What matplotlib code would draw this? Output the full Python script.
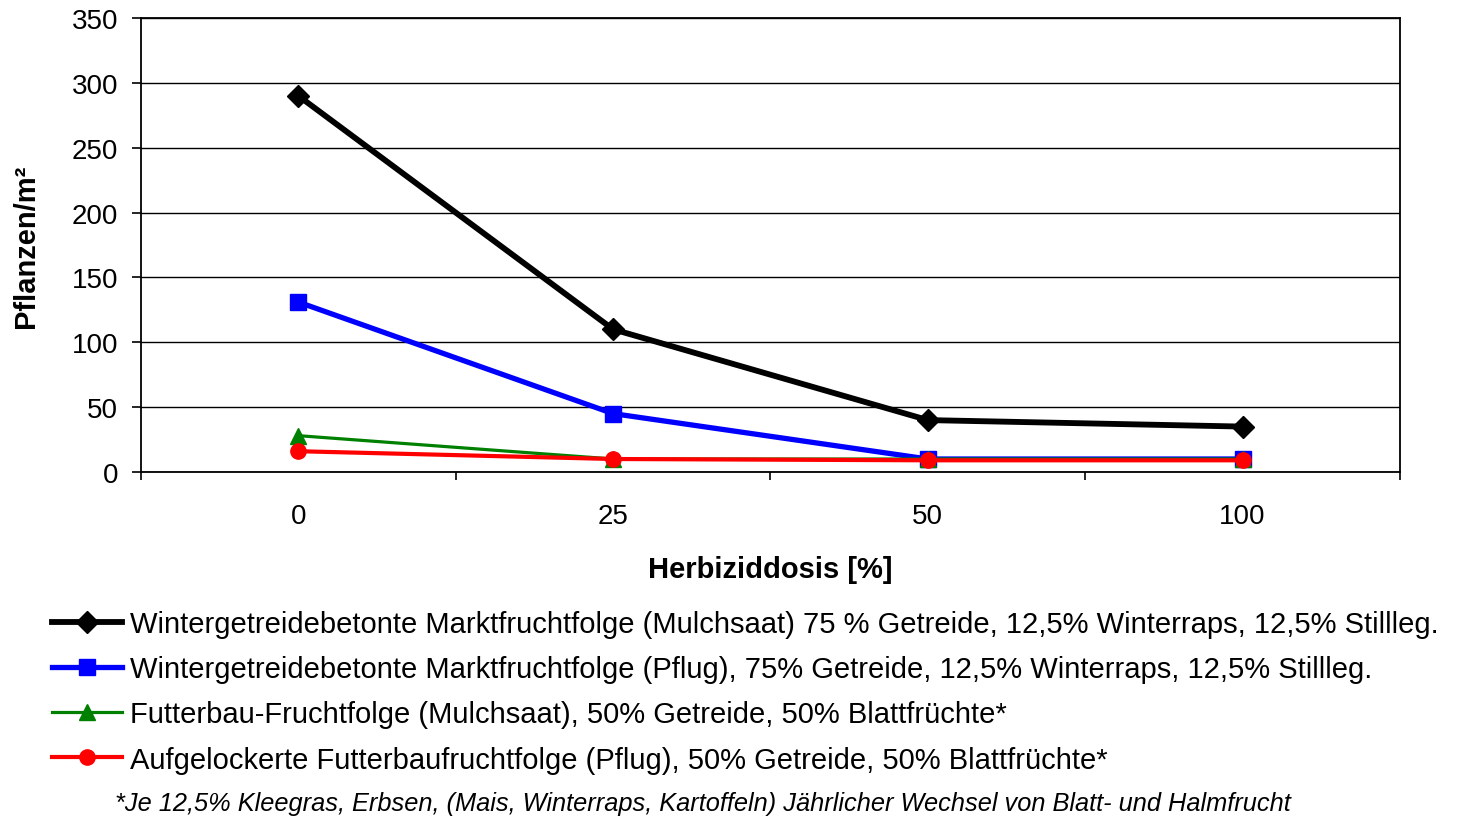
import numpy as np
import matplotlib.pyplot as plt

plt.rcParams['font.family'] = ['Liberation Sans', 'DejaVu Sans']

dosis = ["0", "25", "50", "100"]
x_label = "Herbiziddosis [%]"
y_label = "Pflanzen/m²"

markt_mulch = [290, 110, 40, 35]
markt_pflug = [131, 45, 10, 10]
futter_mulch = [28, 10, 10, 10]
futter_pflug = [16, 10, 9, 9]

labels = [
    "Wintergetreidebetonte Marktfruchtfolge (Mulchsaat) 75 % Getreide, 12,5% Winterraps, 12,5% Stillleg.",
    "Wintergetreidebetonte Marktfruchtfolge (Pflug), 75% Getreide, 12,5% Winterraps, 12,5% Stillleg.",
    "Futterbau-Fruchtfolge (Mulchsaat), 50% Getreide, 50% Blattfrüchte*",
    "Aufgelockerte Futterbaufruchtfolge (Pflug), 50% Getreide, 50% Blattfrüchte*",
]
footnote = "*Je 12,5% Kleegras, Erbsen, (Mais, Winterraps, Kartoffeln) Jährlicher Wechsel von Blatt- und Halmfrucht"

fig = plt.figure(figsize=(14.61, 8.2), dpi=100)
ax = fig.add_axes([0.0965, 0.4232, 0.8617, 0.5536])

x = np.arange(len(dosis))
ax.plot(x, markt_mulch, color="black", lw=4.2, marker="D", ms=11, label=labels[0], zorder=3)
ax.plot(x, markt_pflug, color="blue", lw=3.8, marker="s", ms=12, label=labels[1], zorder=4)
ax.plot(x, futter_mulch, color="green", lw=2.3, marker="^", ms=12, label=labels[2], zorder=5)
ax.plot(x, futter_pflug, color="red", lw=3.0, marker="o", ms=11, label=labels[3], zorder=6)

ax.set_xlim(-0.5, 3.5)
ax.set_ylim(0, 350)
ax.set_yticks(range(0, 351, 50))
ax.set_xticks(x)
ax.set_xticklabels(dosis)
ax.set_xticks(np.arange(-0.5, 3.6, 1), minor=True)
ax.tick_params(axis="x", which="major", length=0, pad=22, labelsize=20)
ax.tick_params(axis="x", which="minor", length=6, width=1.2, direction="out")
ax.tick_params(axis="y", length=6.5, width=1.2, pad=10, labelsize=20)
ax.yaxis.grid(True, color="black", lw=1)
ax.set_axisbelow(True)
for s in ax.spines.values():
    s.set_linewidth(1.3)

ax.set_xlabel(x_label, fontsize=21, fontweight="bold")
ax.xaxis.set_label_coords(0.5, -0.183)
ax.set_ylabel(y_label, fontsize=21, fontweight="bold")
ax.yaxis.set_label_coords(-0.080, 0.5)

ax.legend(loc="upper left", bbox_to_anchor=(52 / 1461, 1 - 611 / 820),
          bbox_transform=fig.transFigure, frameon=False, fontsize=21,
          handlelength=2.4, handletextpad=0.27, labelspacing=0.59,
          borderaxespad=0, borderpad=0)

fig.text(115 / 1461, 1 - 804 / 820, footnote, fontsize=18.3, style="italic", va="center")

fig.savefig("out.png", dpi=100)
